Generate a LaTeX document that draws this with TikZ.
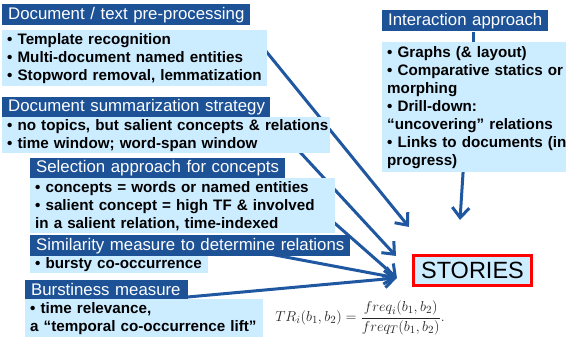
\documentclass[tikz,border=0pt]{standalone}
\usepackage[no-math]{fontspec}
\setmainfont{Liberation Sans}
\usetikzlibrary{arrows.meta,calc}
\definecolor{hdrblue}{RGB}{30,82,150}
\definecolor{arrblue}{RGB}{31,88,160}
\definecolor{paleblue}{RGB}{204,236,255}
\newcommand\hdrfnt{\fontsize{16.8}{19}\selectfont}
\newcommand\bodyfnt{\fontsize{15.2}{18}\selectfont\bfseries}
\pgfdeclarelayer{bg}
\pgfsetlayers{bg,main}

\begin{document}
\begin{tikzpicture}[x=1pt,y=-1pt,
  hdr/.style={fill=hdrblue,text=white,font=\hdrfnt,anchor=north west,
    inner xsep=6pt,inner ysep=0pt,align=left},
  body/.style={fill=paleblue,text=black,font=\bodyfnt,anchor=north west,
    inner xsep=5pt,inner ysep=0pt,align=left},
  flow/.style={draw=arrblue,line width=3pt,
    -{Straight Barb[length=10pt,width=17pt]}},
  link/.style={draw=arrblue,line width=3pt}]

\useasboundingbox (0,0) rectangle (566,345);

% left column: headers and their bullet boxes
\node[hdr,text width=236pt,minimum height=21pt] (hdrA) at (2,4)
  {\mbox{Document / text pre-processing}};
\node[body,text width=255pt,minimum height=56pt] (boxA) at (2,30)
  {\mbox{• Template recognition}\\
   \mbox{• Multi-document named entities}\\
   \mbox{• Stopword removal, lemmatization}};

\node[hdr,text width=256pt,minimum height=20pt] (hdrB) at (2,97)
  {\mbox{Document summarization strategy}};
\node[body,text width=318pt,minimum height=36pt] (boxB) at (2,117)
  {\mbox{• no topics, but salient concepts \& relations}\\
   \mbox{• time window; word-span window}};

\node[hdr,text width=243pt,minimum height=20pt] (hdrC) at (30,158)
  {\mbox{Selection approach for concepts}};
\node[body,text width=295pt,minimum height=55pt] (boxC) at (30,178)
  {\mbox{• concepts = words or named entities}\\
   \mbox{• salient concept = high TF \& involved}\\
   \mbox{in a salient relation, time-indexed}};

\node[hdr,text width=308pt,minimum height=21pt] (hdrD) at (30,235)
  {\mbox{Similarity measure to determine relations}};
\node[body,text width=168pt,minimum height=17pt] (boxD) at (30,256)
  {\mbox{• bursty co-occurrence}};

\node[hdr,text width=151pt,minimum height=19pt] (hdrE) at (25,280)
  {\mbox{Burstiness measure}};
\node[body,text width=228pt,minimum height=38pt] (boxE) at (25,299)
  {\mbox{• time relevance,}\\
   \mbox{a “temporal co-occurrence lift”}};

% right column
\node[hdr,text width=154pt,minimum height=21pt] (hdrF) at (382,10)
  {\mbox{Interaction approach}};
\node[body,text width=180pt,minimum height=130pt] (boxF) at (382,42)
  {\mbox{• Graphs (\& layout)}\\
   \mbox{• Comparative statics or}\\
   \mbox{morphing}\\
   \mbox{• Drill-down:}\\
   \mbox{“uncovering” relations}\\
   \mbox{• Links to documents (in}\\
   \mbox{progress)}};

% target
\node[draw=red,line width=2.6pt,fill=paleblue,minimum width=118.5pt,
  minimum height=30.5pt,inner sep=0pt,font=\fontsize{23.5}{26}\selectfont]
  (stories) at (472.5,270.5) {STORIES};

% time-relevance formula
\node[text=black!85,font=\fontsize{15.8}{19}\selectfont] (formula) at (360,318)
  {$\displaystyle TR_i(b_1,b_2)=\frac{freq_i(b_1,b_2)}{freq_T(b_1,b_2)}.$};

% arrow end points near the target
\coordinate (tipA) at ($(stories.north west)+(-3,-27)$);
\coordinate (tipB) at ($(stories.north west)+(-16,2)$);
\coordinate (tipC) at ($(stories.north west)+(-15,24)$);
\coordinate (tipF) at ($(stories.north)+(-12.5,-34)$);

% connectors sit behind the boxes
\begin{pgfonlayer}{bg}
  \fill[white] (0,0) rectangle (566,345);
  \draw[flow] ($(boxA.north east)+(-4,18)$) -- (tipA);
  \draw[flow] ($(boxB.south west)+(290,-10)$) -- (tipB);
  \draw[flow] ($(boxC.south east)+(-5,-14)$) -- (tipC);
  \draw[flow] ($(hdrD.south east)+(-100,-6)$) -- (tipC);
  \draw[flow] ($(hdrE.south east)+(-5,-2)$) -- (tipC);
  \draw[flow] ($(boxF.south)+(-14,-2)$) -- (tipF);
  \draw[link] ($(hdrF.south)+(8,1)$) -- ($(boxF.north)+(-4,1)$);
\end{pgfonlayer}
\end{tikzpicture}
\end{document}
